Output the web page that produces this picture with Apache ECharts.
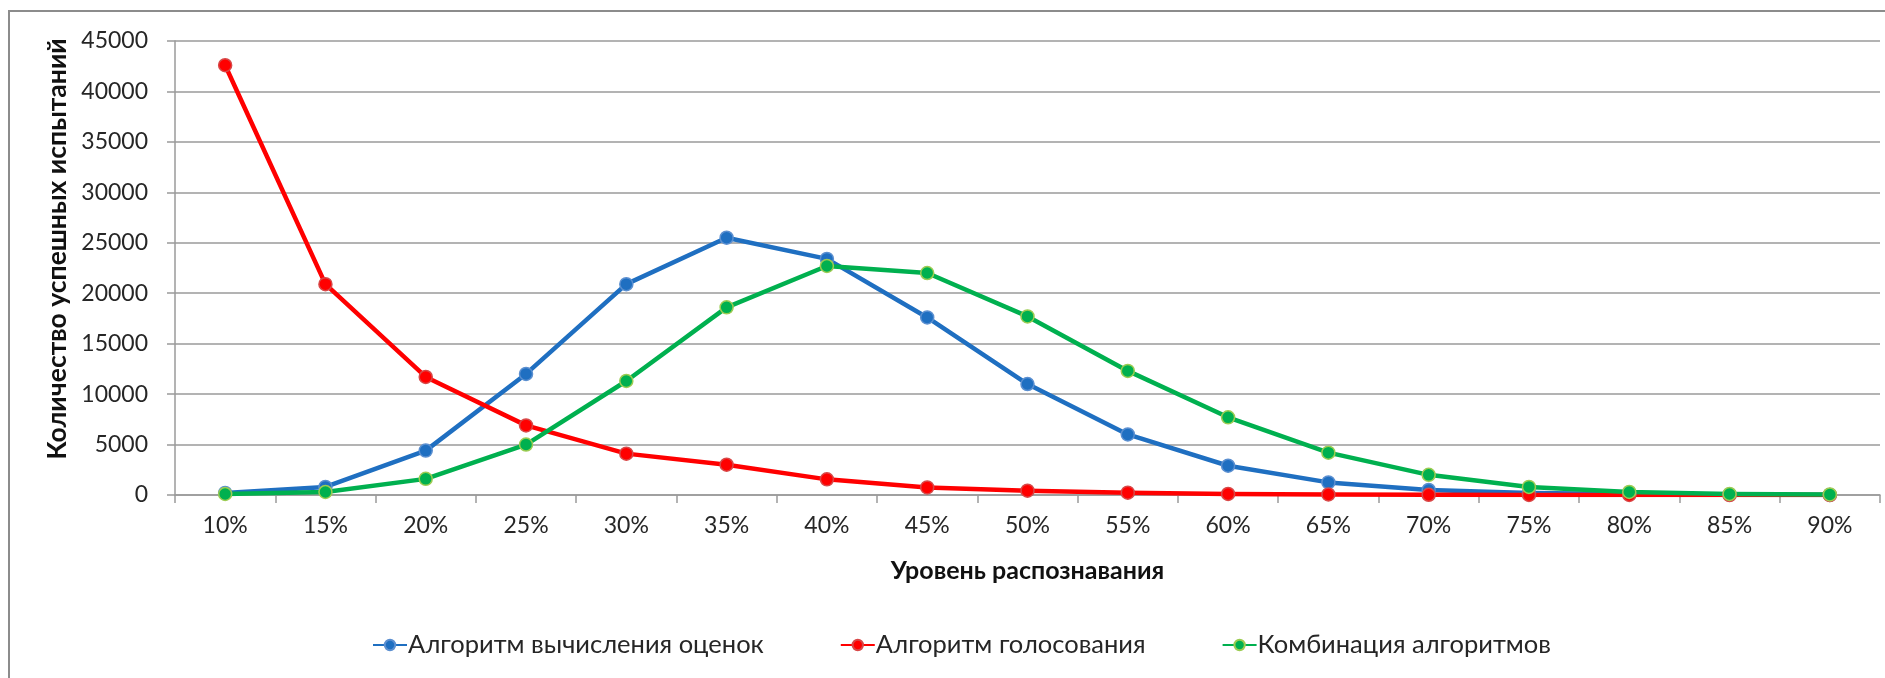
<!DOCTYPE html>
<html>
<head>
<meta charset="utf-8">
<script src="https://cdn.jsdelivr.net/npm/echarts@6/dist/echarts.min.js"></script>
<style>
  html, body { margin: 0; padding: 0; background: #ffffff; }
  #chart { width: 1885px; height: 678px; }
</style>
</head>
<body>
<div id="chart"></div>
<script>
// Recognition levels on the category axis
const categories = ['10%', '15%', '20%', '25%', '30%', '35%', '40%', '45%', '50%',
  '55%', '60%', '65%', '70%', '75%', '80%', '85%', '90%'];

// Number of successful trials per algorithm
const estimateAlgo = [200, 800, 4400, 12000, 20900, 25500, 23400, 17600, 11000,
  6000, 2900, 1250, 500, 200, 100, 30, 10];
const votingAlgo = [42600, 20900, 11700, 6900, 4100, 3000, 1550, 750, 430,
  230, 100, 50, 20, 10, 5, 0, 0];
const combinedAlgo = [100, 300, 1600, 5000, 11300, 18600, 22700, 22000, 17700,
  12300, 7700, 4200, 2000, 800, 300, 100, 50];

const seriesNames = ['Алгоритм вычисления оценок', 'Алгоритм голосования', 'Комбинация алгоритмов'];
const yTicks = { min: 0, max: 45000, step: 5000 };

const FONT = 'Lato, "Open Sans", sans-serif';
const GRID_GREY = '#9a9a9a';

function lineSeries(name, data, color, border) {
  return {
    name: name,
    type: 'line',
    data: data,
    symbol: 'circle',
    symbolSize: 13,
    lineStyle: { color: color, width: 4.5, join: 'round' },
    itemStyle: { color: color, borderColor: border, borderWidth: 1.5 },
    emphasis: { disabled: true },
    animation: false
  };
}

const chart = echarts.init(document.getElementById('chart'), null, { renderer: 'canvas' });

chart.setOption({
  backgroundColor: '#ffffff',
  animation: false,
  textStyle: { fontFamily: FONT },
  grid: { left: 175, top: 41, right: 5, bottom: 183, containLabel: false },
  xAxis: {
    type: 'category',
    data: categories,
    boundaryGap: true,
    name: 'Уровень распознавания',
    nameLocation: 'middle',
    nameGap: 63,
    nameTextStyle: { fontFamily: FONT, fontSize: 25, fontWeight: 'bold', color: '#111111' },
    axisLine: { show: true, lineStyle: { color: GRID_GREY, width: 1.5 } },
    axisTick: { show: true, length: 8, lineStyle: { color: GRID_GREY, width: 1.5 } },
    axisLabel: { fontFamily: FONT, fontSize: 23, color: '#262626', margin: 19 },
    splitLine: { show: false }
  },
  yAxis: {
    type: 'value',
    min: yTicks.min,
    max: yTicks.max,
    interval: yTicks.step,
    axisLine: { show: true, lineStyle: { color: GRID_GREY, width: 1.5 } },
    axisTick: { show: true, length: 8, lineStyle: { color: GRID_GREY, width: 1.5 } },
    axisLabel: {
      fontFamily: FONT, fontSize: 23, color: '#262626', margin: 27,
      formatter: function (v) { return String(v); }
    },
    splitLine: { show: true, lineStyle: { color: GRID_GREY, width: 1.5 } }
  },
  legend: {
    left: 372,
    top: 632,
    padding: 0,
    itemWidth: 34,
    itemHeight: 13,
    itemGap: 76,
    textStyle: { fontFamily: FONT, fontSize: 25.5, color: '#262626', padding: [0, 0, 0, -4] },
    data: seriesNames
  },
  graphic: [
    {
      type: 'rect',
      silent: true,
      shape: { x: 9, y: 11, width: 2000, height: 1000 },
      style: { fill: 'none', stroke: '#8c8c8c', lineWidth: 2 }
    },
    {
      type: 'text',
      silent: true,
      x: 57,
      y: 249,
      rotation: Math.PI / 2,
      style: {
        text: 'Количество успешных испытаний',
        fontFamily: FONT,
        fontSize: 26.5,
        fontWeight: 'bold',
        fill: '#111111',
        align: 'center',
        verticalAlign: 'middle'
      }
    }
  ],
  series: [
    lineSeries(seriesNames[0], estimateAlgo, '#1f6fc1', '#5b8fd0'),
    lineSeries(seriesNames[1], votingAlgo, '#ff0000', '#d84848'),
    lineSeries(seriesNames[2], combinedAlgo, '#00b04f', '#9ccc52')
  ]
});
</script>
</body>
</html>
